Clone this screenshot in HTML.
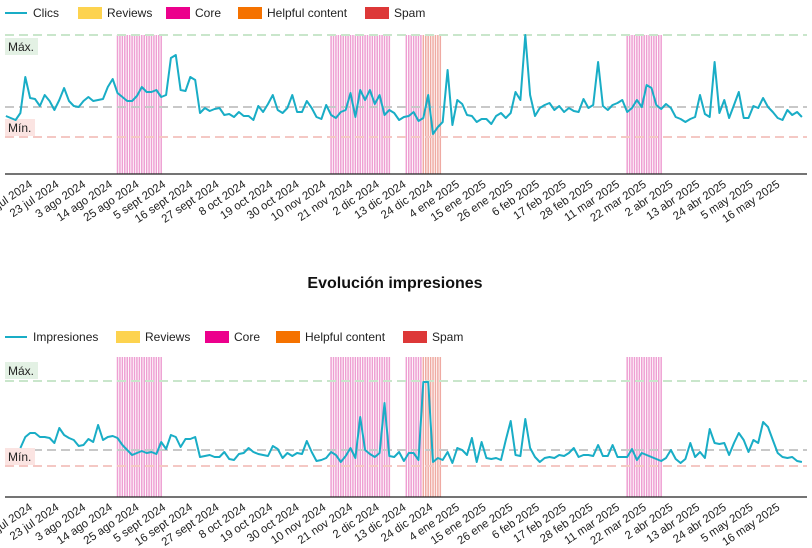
<!DOCTYPE html>
<html><head><meta charset="utf-8"><style>
html,body{margin:0;padding:0;background:#fff;}
svg{display:block;font-family:"Liberation Sans",sans-serif;}
</style></head><body>
<svg id="c" width="812" height="548" viewBox="0 0 812 548" xmlns="http://www.w3.org/2000/svg"></svg>
<script>
// ---- data ----
const startDay = -12; // first point: 30 jun 2024 (day 0 = 12 jul 2024), 2-day step
const stepDays = 2;
const clicks = [21,19,17,24,60,39,38,31,42,36,27,37,49,36,31,30,36,40,36,37,38,50,58,44,40,36,36,41,50,45,45,47,40,42,79,82,47,46,60,57,24,29,26,28,29,22,23,20,25,21,21,17,31,25,33,42,27,24,29,42,25,25,36,29,20,18,32,22,19,25,27,44,20,47,37,47,33,42,22,27,24,17,20,21,25,16,19,42,3,10,15,67,12,37,33,22,21,15,18,18,13,21,24,19,24,45,37,102,42,21,29,32,34,27,31,25,29,26,25,38,29,32,75,31,27,32,34,37,25,29,37,30,52,49,32,28,33,29,20,18,15,18,20,42,23,20,75,24,37,19,32,45,19,19,31,29,39,30,25,19,17,27,22,25,20];
const impressions = [null,null,null,18,29,33,33,29,29,28,23,38,31,28,26,20,21,27,24,41,26,29,30,28,21,16,11,13,15,13,14,12,24,17,31,29,19,27,27,29,9,10,11,9,9,14,7,6,12,13,18,14,12,11,10,20,17,8,13,10,13,12,25,14,5,6,8,14,11,4,10,18,8,49,16,12,9,13,63,10,9,14,5,13,13,6,84,84,4,8,6,14,3,18,16,11,28,4,24,8,7,8,6,26,45,11,10,47,18,9,4,8,9,8,11,10,13,18,9,11,11,10,21,10,10,21,9,9,9,17,6,13,11,9,7,5,8,16,7,3,7,23,9,14,8,37,23,22,23,11,23,33,26,14,26,23,44,39,26,13,9,8,9,5,4];
const tickLabels = ["12 jul 2024","23 jul 2024","3 ago 2024","14 ago 2024","25 ago 2024","5 sept 2024","16 sept 2024","27 sept 2024","8 oct 2024","19 oct 2024","30 oct 2024","10 nov 2024","21 nov 2024","2 dic 2024","13 dic 2024","24 dic 2024","4 ene 2025","15 ene 2025","26 ene 2025","6 feb 2025","17 feb 2025","28 feb 2025","11 mar 2025","22 mar 2025","2 abr 2025","13 abr 2025","24 abr 2025","5 may 2025","16 may 2025"];
const tickDays = [0,11,22,33,44,55,66,77,88,99,110,121,132,143,154,165,176,187,198,209,220,231,242,253,264,275,286,297,308];
const coreStart = [34,122,153,244];
const coreEnd = [52,146,159,258];
const spamStart = [160];
const spamEnd = [167];
const clicksRef = [102,30,0];   // máx, media, mín
const imprRef = [85,16,0];

// ---- helpers ----
const svg=document.getElementById('c');
const NS='http://www.w3.org/2000/svg';
function mk(t,a,p){const e=document.createElementNS(NS,t);for(const k in a)e.setAttribute(k,a[k]);(p||svg).appendChild(e);return e;}
const xDay=d=>35+d*2.427;
const TEAL='#19adc6';

function legend(y,first,offs){
  const g=mk('g',{});
  
  
  const l=mk('line',{x1:5,x2:27,y1:y,y2:y,stroke:TEAL,'stroke-width':2},g);
  
  
  const t=mk('text',{x:33,y:y+4,'font-size':12,fill:'#222'},g);t.textContent=first;
  
  
  const items=[["Reviews","#fdd34f"],["Core","#ec008c"],["Helpful content","#f57200"],["Spam","#dd3838"]];
  items.forEach((it,i)=>{
    const r=mk('rect',{x:offs[i],y:y-6,width:24,height:12,fill:it[1]},g);
    
    
    const tt=mk('text',{x:offs[i]+29,y:y+4,'font-size':12,fill:'#222'},g);tt.textContent=it[0];
    
    
  });
}

function chart(name,vals,ref,yZero,scale,axisY,bandTop,legendY,first,offs){
  legend(legendY,first,offs);
  const yv=v=>yZero-v*scale;
  const drawBand=(s,e,col,nm)=>{for(let d=s;d<=e;d++){const x=xDay(d);
    const ln=mk('line',{x1:x,x2:x,y1:bandTop,y2:axisY,stroke:col,'stroke-width':1.5});
    
    }};
  coreStart.forEach((s,i)=>drawBand(s,coreEnd[i],'#ee9fd2','core-update-day'));
  spamStart.forEach((s,i)=>drawBand(s,spamEnd[i],'#efaaa2','spam-update-day'));
  const cols=['#c9e6cb','#c8c8c8','#f4c8c4'];
  const nms=['max-line','avg-line','min-line'];
  ref.forEach((v,i)=>{const l=mk('line',{x1:5,x2:807,y1:yv(v),y2:yv(v),stroke:cols[i],'stroke-width':2,'stroke-dasharray':'9 5'});
    
    });
  const mxY=yv(ref[0]), mnY=yv(ref[2]);
  const maxBoxY = first==='Clics'? mxY+3 : mxY-19;
  const minBoxY = mnY-18;
  const b1=mk('rect',{x:5,y:maxBoxY,width:33,height:17,fill:'#e3f1e4'});
  
  
  const t1=mk('text',{x:8,y:maxBoxY+13,'font-size':12,fill:'#222'});t1.textContent='Máx.';
  
  
  const b2=mk('rect',{x:5,y:minBoxY,width:30,height:17,fill:'#fbe4e2'});
  
  
  const t2=mk('text',{x:8,y:minBoxY+13,'font-size':12,fill:'#222'});t2.textContent='Mín.';
  
  
  let d='';let pen=false;
  vals.forEach((v,i)=>{if(v===null){pen=false;return;}const x=xDay(startDay+i*stepDays);d+=(pen?'L':'M')+x.toFixed(1)+','+yv(v).toFixed(1);pen=true;});
  const p=mk('path',{d:d,fill:'none',stroke:TEAL,'stroke-width':2,'stroke-linejoin':'round'});
  
  
  const ax=mk('line',{x1:5,x2:807,y1:axisY,y2:axisY,stroke:'#222','stroke-width':1.3});
  
  
  tickDays.forEach((td,i)=>{const x=xDay(td)-2, y=axisY+12;
    const t=mk('text',{x:x,y:y,'font-size':11.5,fill:'#222','text-anchor':'end',transform:`rotate(-34 ${x} ${y})`});
    t.textContent=tickLabels[i];
    
    });
}

chart('clicks',clicks,clicksRef,137,1,174,35,13,'Clics',[78,166,238,365]);
const title=mk('text',{x:395,y:288,'font-size':16,'font-weight':'bold','text-anchor':'middle',fill:'#111'});
title.textContent='Evolución impresiones';


chart('impressions',impressions,imprRef,466,1,497,357,337,'Impresiones',[116,205,276,403]);
</script>
</body></html>
